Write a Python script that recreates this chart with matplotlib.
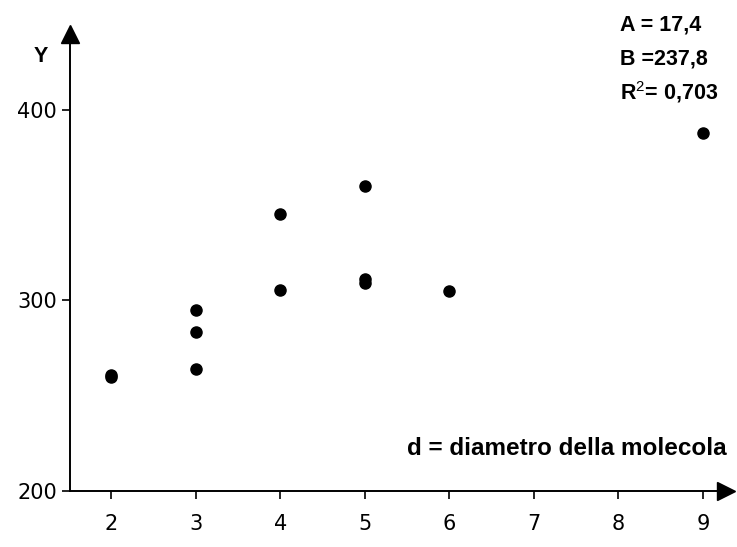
import matplotlib
matplotlib.use("Agg")
import matplotlib.pyplot as plt

# Molecular diameter vs. Y measurements
d_values = [2, 2, 3, 3, 3, 4, 4, 5, 5, 5, 6, 9]
y_values = [259.5, 261, 295, 283.5, 264, 345.5, 305.5, 360, 309, 311, 305, 388]

x_ticks = [2, 3, 4, 5, 6, 7, 8, 9]
y_ticks = [200, 300, 400]

fit_lines = ["A = 17,4", "B =237,8", "R$^2$= 0,703"]
x_caption = "d = diametro della molecola"

plt.rcParams["mathtext.fontset"] = "custom"
plt.rcParams["mathtext.rm"] = "Liberation Sans"
plt.rcParams["mathtext.it"] = "Liberation Sans:bold"

fig = plt.figure(figsize=(7.37, 5.47), dpi=100)
ax = fig.add_axes([0, 0, 1, 1])
ax.set_xlim(0.6875, 9.402)
ax.set_ylim(170.4, 457.8)

# Axes crossing at (1.51, 200) with arrowheads
x0, y0 = 1.51, 200
x_end, y_end = 9.22, 436
for side in ("top", "right"):
    ax.spines[side].set_visible(False)
ax.spines["left"].set_position(("data", x0))
ax.spines["bottom"].set_position(("data", y0))
ax.spines["left"].set_bounds(y0, y_end)
ax.spines["bottom"].set_bounds(x0, x_end)
for side in ("left", "bottom"):
    ax.spines[side].set_linewidth(1.4)
    ax.spines[side].set_color("black")

ax.plot([x0], [y_end + 4], marker="^", ms=13, color="black", clip_on=False)
ax.plot([x_end + 0.05], [y0], marker=">", ms=13, color="black", clip_on=False)

tick_font = dict(family=["DejaVu Sans"], size=15)
ax.set_xticks(x_ticks)
ax.set_xticklabels([str(v) for v in x_ticks], **tick_font)
ax.set_yticks(y_ticks)
ax.set_yticklabels([str(v) for v in y_ticks], **tick_font)
ax.tick_params(axis="both", direction="out", length=6, width=1.2, color="black")
ax.tick_params(axis="x", pad=11)
ax.tick_params(axis="y", pad=3)

ax.plot(d_values, y_values, "o", ms=8, color="black", clip_on=False)

label_font = dict(family=["Liberation Sans", "DejaVu Sans"], weight="bold", size=15.5)
ax.text(1.172, 428, "Y", ha="center", va="center", **label_font)

for i, line in enumerate(fit_lines):
    ax.text(8.02, 444.5 - i * 17.5, line, ha="left", va="center", **label_font)

caption_font = dict(label_font, size=17.5)
ax.text(9.284, 222.4, x_caption, ha="right", va="center", **caption_font)

fig.savefig("out.png", dpi=100)
